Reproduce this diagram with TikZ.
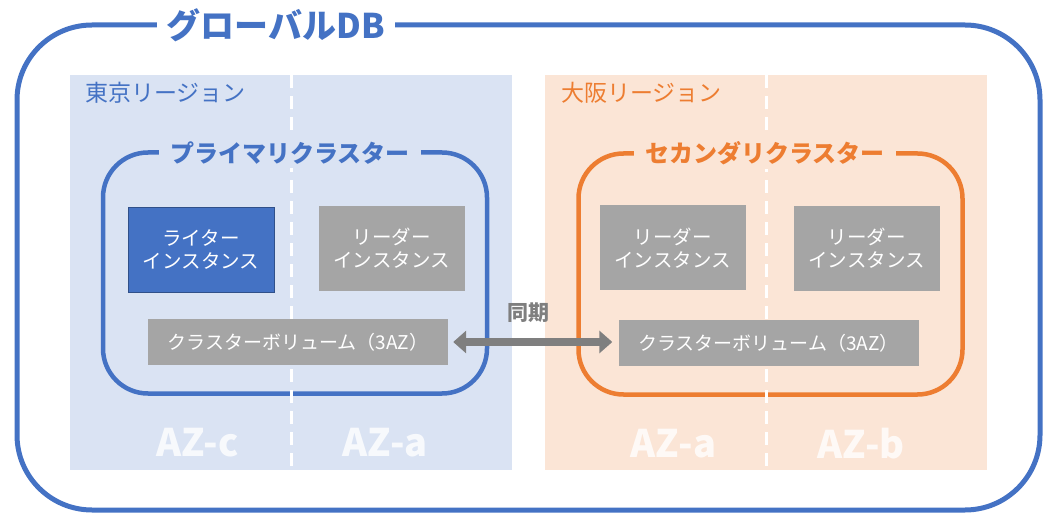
\documentclass[tikz,border=0pt]{standalone}
\usepackage{fontspec}
\setmainfont{Noto Sans CJK JP}
\usepackage{xcolor}
\usepackage{tikz}
\usetikzlibrary{arrows.meta,positioning}

\definecolor{awsblue}{HTML}{4472C4}
\definecolor{awsorange}{HTML}{ED7D31}
\definecolor{tokyobg}{HTML}{DAE3F3}
\definecolor{osakabg}{HTML}{FBE5D6}
\definecolor{boxgray}{HTML}{A5A5A5}
\definecolor{syncgray}{HTML}{7F7F7F}

\begin{document}
\begin{tikzpicture}[x=1pt, y=-1pt]

    % --- STYLES ---
    \tikzset{
        regionbox/.style={draw=none, minimum width=442pt, minimum height=395pt, inner sep=0pt},
        regionlabel/.style={anchor=west, inner sep=0pt, font=\fontsize{23}{26}\selectfont},
        azdash/.style={draw=white, line width=3pt, dash pattern=on 13pt off 8pt},
        azlabel/.style={text=white, text opacity=0.8, font=\fontsize{38}{40}\selectfont\bfseries},
        clusterbox/.style={line width=4.5pt, rounded corners=45pt, minimum width=384pt, minimum height=241pt, inner sep=0pt},
        clustertitle/.style={inner xsep=11pt, inner ysep=4pt, font=\fontsize{24}{27}\selectfont\bfseries},
        instbox/.style={fill=boxgray, text=white, align=center, minimum width=146pt, minimum height=85pt, inner sep=0pt, font=\fontsize{19.5}{23}\selectfont},
        volbox/.style={fill=boxgray, text=white, minimum width=300pt, minimum height=46pt, inner sep=0pt, font=\fontsize{19}{22}\selectfont},
        syncarrow/.style={draw=syncgray, line width=8pt, {Triangle[length=13pt, width=22pt]}-{Triangle[length=13pt, width=22pt]}}
    }

    \useasboundingbox (0,0) rectangle (1054,526);

    % --- GLOBAL DB (aeusserer Rahmen) ---
    \draw[awsblue, line width=5pt, rounded corners=75pt] (17,25) rectangle (1040,510);
    \node[fill=white, text=awsblue, inner xsep=10pt, font=\fontsize{34}{38}\selectfont\bfseries] (globaldb) at (276,25) {グローバルDB};

    % --- REGIONEN ---
    \node[regionbox, fill=tokyobg] (tokyo) at (291,272.5) {};
    \node[regionbox, fill=osakabg] (osaka) at (766,272.5) {};
    \node[regionlabel, text=awsblue] (tokyolbl) at (85,93) {東京リージョン};
    \node[regionlabel, text=awsorange] (osakalbl) at (561,93) {大阪リージョン};

    % --- CLUSTER ---
    \node[clusterbox, draw=awsblue] (primary) at (295,273) {};
    \node[clusterbox, draw=awsorange] (secondary) at (770.5,274) {};

    % AZ-Grenzen (gestrichelt)
    \draw[azdash] (tokyo.north) -- (tokyo.south);
    \draw[azdash] (osaka.north) -- (osaka.south);

    \node[clustertitle, fill=tokyobg, text=awsblue] (primarytitle) at (290,153) {プライマリクラスター};
    \node[clustertitle, fill=osakabg, text=awsorange] (secondarytitle) at (765,153) {セカンダリクラスター};

    % --- INSTANZEN ---
    \node[instbox, fill=awsblue, draw=awsblue!70!black, line width=0.8pt] (writer) at (201,249.5) {ライター\\インスタンス};
    \node[instbox] (readerT) at (391.5,248.5) {リーダー\\インスタンス};
    \node[instbox] (readerOa) at (672.5,248) {リーダー\\インスタンス};
    \node[instbox] (readerOb) at (866.5,248.5) {リーダー\\インスタンス};

    % --- CLUSTER-VOLUMES ---
    \node[volbox] (volT) at (298,342) {クラスターボリューム（3AZ）};
    \node[volbox] (volO) at (768.5,343) {クラスターボリューム（3AZ）};

    % --- SYNC ---
    \draw[syncarrow, shorten <=5pt, shorten >=6pt] (volT.east) -- (volO.west |- volT.east);
    \node[text=syncgray, font=\fontsize{21}{24}\selectfont\bfseries] (synclbl) at (528,313) {同期};

    % --- AZ LABELS ---
    \node[azlabel] (azTc) at (197.5,443) {AZ-c};
    \node[azlabel] (azTa) at (385,443) {AZ-a};
    \node[azlabel] (azOa) at (673.5,444) {AZ-a};
    \node[azlabel] (azOb) at (861,444) {AZ-b};

\end{tikzpicture}
\end{document}
